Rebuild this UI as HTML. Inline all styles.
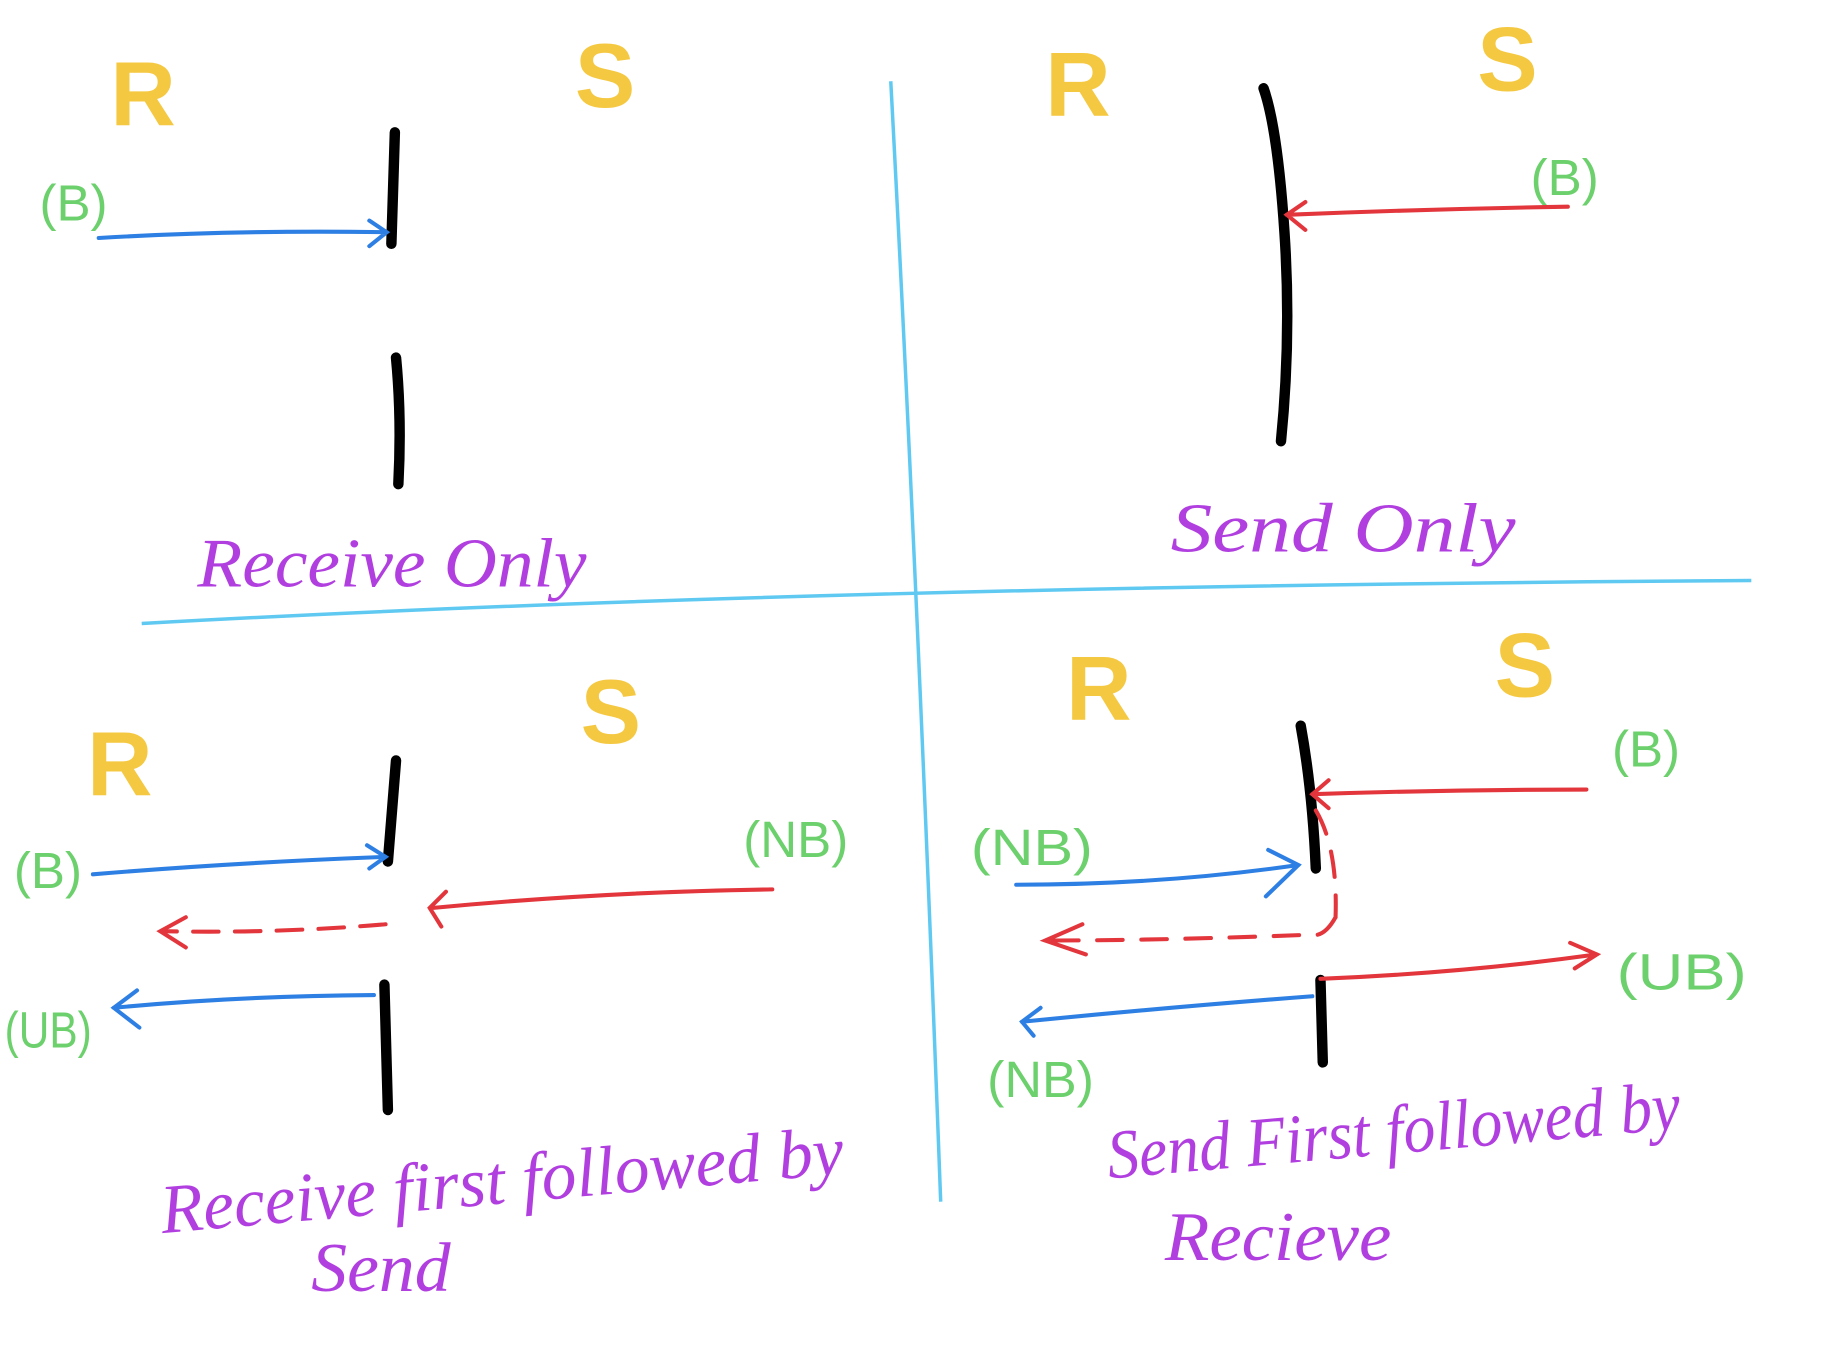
<!DOCTYPE html>
<html><head><meta charset="utf-8"><style>
html,body{margin:0;padding:0;background:#fff;width:1821px;height:1355px;overflow:hidden}
svg{display:block}
.R{font-family:"Liberation Sans",sans-serif;font-weight:bold;fill:#f5c842;font-size:78px}
.g{font-family:"Liberation Sans",sans-serif;fill:#6cd06c;font-size:44px}
.p{font-family:"Liberation Serif",serif;font-style:italic;fill:#b13fe0;font-size:60px}
.bar{stroke:#000;stroke-width:9;fill:none;stroke-linecap:round}
.bl{stroke:#2e7fe3;stroke-width:3.5;fill:none;stroke-linecap:round}
.rd{stroke:#e2363c;stroke-width:3.5;fill:none;stroke-linecap:round}
.cy{stroke:#5fc9f2;stroke-width:3;fill:none}
</style></head><body>
<svg width="1821" height="1355" viewBox="0 0 1568 1167" preserveAspectRatio="none">
<path class="cy" d="M767 70 Q790 500 810 1035"/>
<path class="cy" d="M122 537 Q700 505 1508 500"/>

<!-- Q1 -->
<text class="R" x="95" y="108">R</text>
<text class="R" x="495" y="92">S</text>
<path class="bar" d="M340 114 L337 210"/>
<path class="bar" d="M341 308 Q346 360 343 417"/>
<text class="g" x="34" y="190">(B)</text>
<path class="bl" d="M85 205 Q200 198 333 200 M318 190 L333 200 L318 212"/>
<text class="p" x="170" y="505" textLength="335" lengthAdjust="spacingAndGlyphs">Receive Only</text>

<!-- Q2 -->
<text class="R" x="900" y="100">R</text>
<text class="R" x="1272" y="78">S</text>
<path class="bar" d="M1088 76 Q1100 110 1106 200 Q1112 290 1103 380"/>
<text class="g" x="1318" y="168">(B)</text>
<path class="rd" d="M1350 178 Q1230 180 1108 185 M1124 174 L1108 185 L1124 198"/>
<text class="p" x="1008" y="475" textLength="297" lengthAdjust="spacingAndGlyphs">Send Only</text>

<!-- Q3 -->
<text class="R" x="75" y="685">R</text>
<text class="R" x="500" y="640">S</text>
<path class="bar" d="M341 655 L334 742"/>
<path class="bar" d="M331 848 L334 956"/>
<text class="g" x="12" y="765">(B)</text>
<path class="bl" d="M80 753 Q200 743 332 738 M316 728 L332 738 L318 748"/>
<text class="g" x="640" y="738">(NB)</text>
<path class="rd" d="M665 766 Q520 768 372 782 M384 768 L370 782 L380 798"/>
<path class="rd" d="M332 796 Q240 804 140 802" stroke-dasharray="22 14"/>
<path class="rd" d="M160 790 L138 802 L160 816"/>
<text class="g" x="4" y="902" textLength="75" lengthAdjust="spacingAndGlyphs">(UB)</text>
<path class="bl" d="M322 857 Q200 858 98 868 M118 853 L98 868 L120 885"/>
<text class="p" x="140" y="1062" transform="rotate(-5 140 1062)" textLength="590" lengthAdjust="spacingAndGlyphs">Receive first followed by</text>
<text class="p" x="268" y="1112" textLength="120" lengthAdjust="spacingAndGlyphs">Send</text>

<!-- Q4 -->
<text class="R" x="918" y="620">R</text>
<text class="R" x="1287" y="600">S</text>
<path class="bar" d="M1120 625 Q1130 680 1133 748"/>
<path class="bar" d="M1137 844 L1139 915"/>
<text class="g" x="1388" y="660">(B)</text>
<path class="rd" d="M1366 680 Q1250 680 1130 684 M1144 672 L1130 684 L1144 696"/>
<text class="g" x="836" y="745" textLength="105" lengthAdjust="spacingAndGlyphs">(NB)</text>
<path class="bl" d="M875 762 Q1000 762 1118 745 M1092 732 L1118 745 L1090 772"/>
<path class="rd" d="M1133 698 Q1152 730 1150 790 M1150 790 Q1140 808 1128 805 Q1000 810 902 810" stroke-dasharray="22 16"/>
<path class="rd" d="M932 796 L900 810 L935 822"/>
<text class="g" x="1392" y="852" textLength="112" lengthAdjust="spacingAndGlyphs">(UB)</text>
<path class="rd" d="M1137 843 Q1260 838 1375 822 M1352 812 L1375 822 L1356 834"/>
<path class="bl" d="M1130 858 Q1000 868 880 880 M896 868 L880 880 L890 892"/>
<text class="g" x="850" y="945" textLength="92" lengthAdjust="spacingAndGlyphs">(NB)</text>
<text class="p" x="955" y="1015" transform="rotate(-5 955 1015)" textLength="495" lengthAdjust="spacingAndGlyphs">Send First followed by</text>
<text class="p" x="1003" y="1085" textLength="195" lengthAdjust="spacingAndGlyphs">Recieve</text>
</svg>
</body></html>
